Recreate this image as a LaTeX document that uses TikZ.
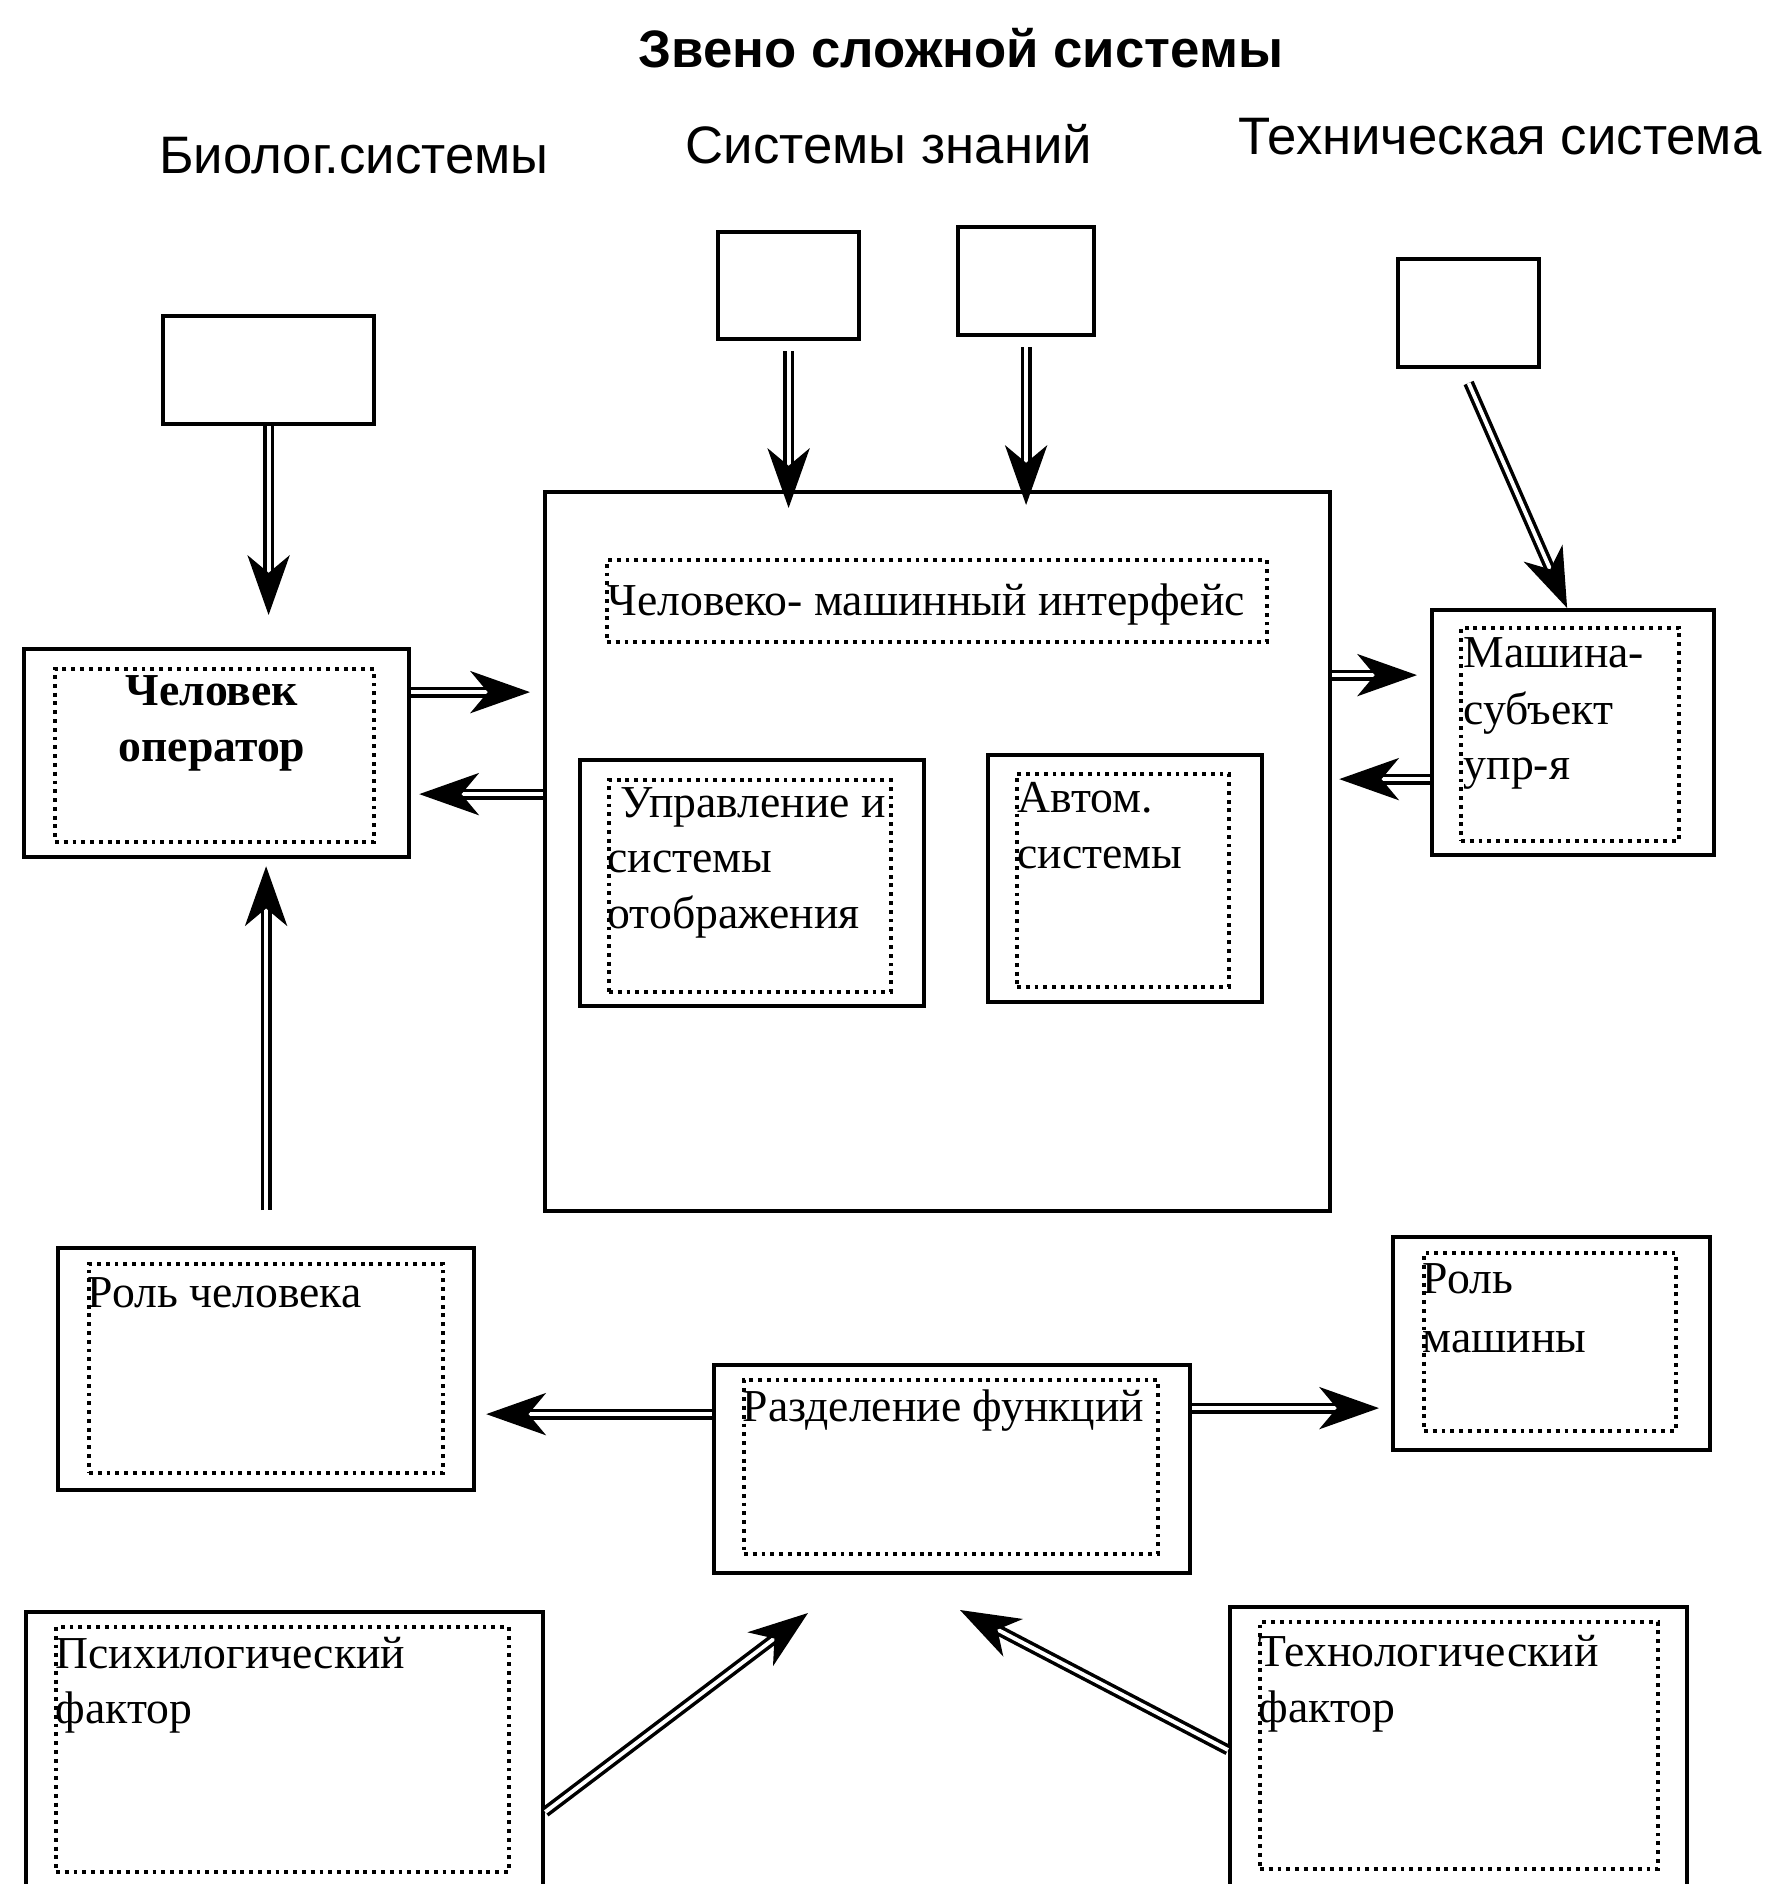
\documentclass[tikz,border=0pt]{standalone}
\usepackage{fontspec}
\setmainfont{Liberation Serif}
\newfontfamily\hdfont{Liberation Sans}
\usetikzlibrary{arrows.meta}

\begin{document}
\begin{tikzpicture}[
  box/.style={draw, line width=1.2pt, inner sep=0pt, anchor=north west},
  dotbox/.style={draw, line width=1.1pt, dash pattern=on 1.1pt off 1.4pt, inner sep=0pt, anchor=north west},
  arr/.style={double, double distance=1.1pt, line width=1pt, -{Stealth[length=17pt,width=12pt,inset=5pt]}},
  txt/.style={anchor=base west, inner sep=0pt, font=\fontsize{13}{16}\selectfont},
  head/.style={anchor=base, inner sep=0pt, font=\hdfont\fontsize{15}{18}\selectfont}]

\useasboundingbox (0,0) rectangle (17.76,-18.84);

\node[head, font=\hdfont\bfseries\fontsize{15}{18}\selectfont] (title) at (9.61,-0.67) {Звено сложной системы};
\node[head] (hbio) at (3.54,-1.73) {Биолог.системы};
\node[head] (hkn) at (8.89,-1.63) {Системы знаний};
\node[head] (htech) at (15.00,-1.54) {Техническая система};

\node[box, minimum width=2.11cm, minimum height=1.08cm] (bio) at (1.61,-3.14) {};
\node[box, minimum width=1.41cm, minimum height=1.07cm] (kn1) at (7.16,-2.30) {};
\node[box, minimum width=1.36cm, minimum height=1.08cm] (kn2) at (9.56,-2.25) {};
\node[box, minimum width=1.41cm, minimum height=1.08cm] (tech) at (13.96,-2.57) {};

\node[box, minimum width=7.85cm, minimum height=7.19cm] (big) at (5.43,-4.90) {};
\node[dotbox, minimum width=6.60cm, minimum height=0.82cm] (iface) at (6.05,-5.58) {};
\node[box, minimum width=3.44cm, minimum height=2.46cm] (upr) at (5.78,-7.58) {};
\node[dotbox, minimum width=2.82cm, minimum height=2.12cm] (uprin) at (6.07,-7.78) {};
\node[box, minimum width=2.74cm, minimum height=2.47cm] (avt) at (9.86,-7.53) {};
\node[dotbox, minimum width=2.12cm, minimum height=2.13cm] (avtin) at (10.15,-7.72) {};

\node[box, minimum width=3.85cm, minimum height=2.08cm] (oper) at (0.22,-6.47) {};
\node[dotbox, minimum width=3.19cm, minimum height=1.73cm] (operin) at (0.53,-6.67) {};
\node[box, minimum width=2.82cm, minimum height=2.45cm] (mash) at (14.30,-6.08) {};
\node[dotbox, minimum width=2.18cm, minimum height=2.13cm] (mashin) at (14.59,-6.26) {};

\node[box, minimum width=4.16cm, minimum height=2.42cm] (rolc) at (0.56,-12.46) {};
\node[dotbox, minimum width=3.54cm, minimum height=2.09cm] (rolcin) at (0.87,-12.62) {};
\node[box, minimum width=3.17cm, minimum height=2.13cm] (rolm) at (13.91,-12.35) {};
\node[dotbox, minimum width=2.52cm, minimum height=1.78cm] (rolmin) at (14.22,-12.51) {};
\node[box, minimum width=4.76cm, minimum height=2.08cm] (razd) at (7.12,-13.63) {};
\node[dotbox, minimum width=4.14cm, minimum height=1.74cm] (razdin) at (7.42,-13.78) {};
\node[box, minimum width=5.17cm, minimum height=3.2cm] (psy) at (0.24,-16.10) {};
\node[dotbox, minimum width=4.53cm, minimum height=2.45cm] (psyin) at (0.54,-16.25) {};
\node[box, minimum width=4.57cm, minimum height=3.2cm] (tehf) at (12.28,-16.05) {};
\node[dotbox, minimum width=3.98cm, minimum height=2.47cm] (tehfin) at (12.58,-16.20) {};

\node[txt, anchor=base, font=\bfseries\fontsize{13}{16}\selectfont] (oper1) at (2.12,-7.05) {Человек};
\node[txt, anchor=base, font=\bfseries\fontsize{13}{16}\selectfont] (oper2) at (2.12,-7.61) {оператор};
\node[txt] (iface1) at (6.07,-6.15) {Человеко- машинный интерфейс};
\node[txt] (upr1) at (6.20,-8.17) {Управление и};
\node[txt] (upr2) at (6.07,-8.72) {системы};
\node[txt] (upr3) at (6.07,-9.28) {отображения};
\node[txt] (avt1) at (10.17,-8.12) {Автом.};
\node[txt] (avt2) at (10.17,-8.68) {системы};
\node[txt] (mash1) at (14.63,-6.67) {Машина-};
\node[txt] (mash2) at (14.63,-7.24) {субъект};
\node[txt] (mash3) at (14.63,-7.79) {упр-я};
\node[txt] (rolc1) at (0.87,-13.07) {Роль человека};
\node[txt] (rolm1) at (14.22,-12.93) {Роль};
\node[txt] (rolm2) at (14.22,-13.52) {машины};
\node[txt] (razd1) at (7.42,-14.21) {Разделение функций};
\node[txt] (psy1) at (0.55,-16.68) {Психилогический};
\node[txt] (psy2) at (0.55,-17.23) {фактор};
\node[txt] (tehf1) at (12.58,-16.66) {Технологический};
\node[txt] (tehf2) at (12.58,-17.22) {фактор};

\coordinate (psyend) at (8.08,-16.13);
\coordinate (tehfend) at (9.60,-16.10);

\draw[arr, shorten >=0.32cm] (bio.south) -- (bio.south |- oper.north);
\draw[arr, shorten <=0.1cm, shorten >=-0.18cm] (kn1.south) -- (kn1.south |- big.north);
\draw[arr, shorten <=0.1cm, shorten >=-0.15cm] (kn2.south) -- (kn2.south |- big.north);
\draw[arr, shorten <=0.15cm] ([xshift=-0.06cm]tech.south) -- ([xshift=-0.06cm]mash.north);
\draw[arr, shorten >=0.13cm] ([yshift=0.61cm]oper.east) -- ([yshift=0.61cm]oper.east -| big.west);
\draw[arr, shorten >=0.08cm] ([yshift=-0.41cm]oper.east -| big.west) -- ([yshift=-0.41cm]oper.east);
\draw[arr, shorten >=0.13cm] ([yshift=0.575cm]mash.west -| big.east) -- ([yshift=0.575cm]mash.west);
\draw[arr, shorten >=0.07cm] ([yshift=-0.465cm]mash.west) -- ([yshift=-0.465cm]mash.west -| big.east);
\draw[arr, shorten <=0.36cm, shorten >=0.07cm] (rolc.north) -- (rolc.north |- oper.south);
\draw[arr, shorten >=0.1cm] ([yshift=0.55cm]razd.west) -- ([yshift=0.55cm]razd.west -| rolc.east);
\draw[arr, shorten >=0.12cm] ([yshift=0.61cm]razd.east) -- ([yshift=0.61cm]razd.east -| rolm.west);
\draw[arr] ([yshift=-2.02cm]psy.north east) -- (psyend);
\draw[arr] ([yshift=-1.45cm]tehf.north west) -- (tehfend);
\end{tikzpicture}
\end{document}
